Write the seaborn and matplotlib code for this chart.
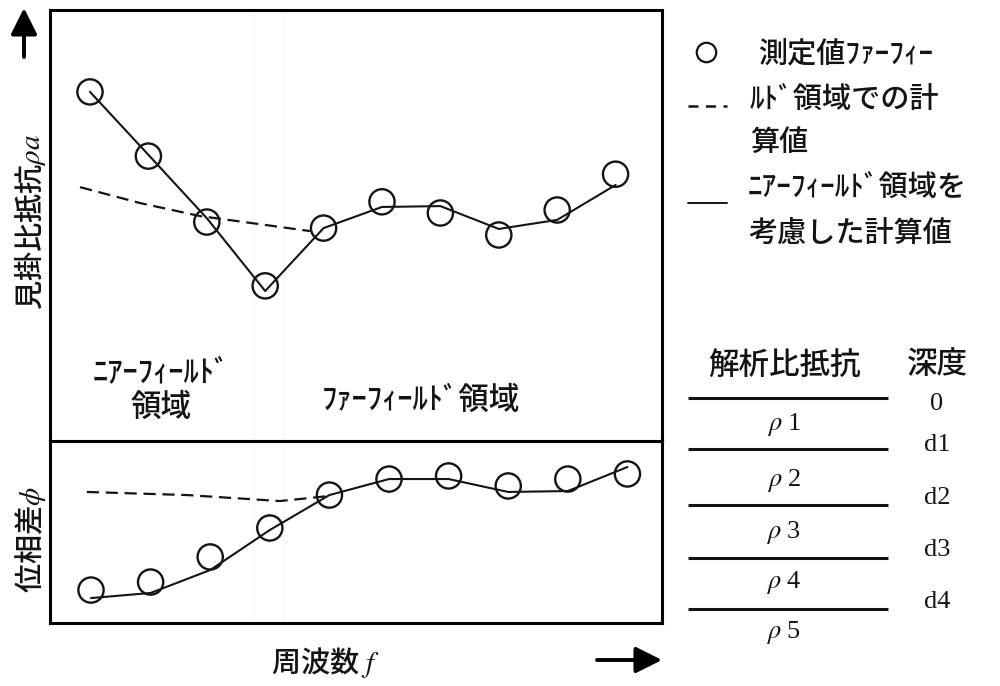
import numpy as np
import pandas as pd
import seaborn as sns
import matplotlib.pyplot as plt

# ---- data (arbitrary units) ----
freq = [0, 1, 2, 3, 4, 5, 6, 7, 8, 9]

rho_measured = [81.0, 66.1, 50.8, 36.0, 49.4, 55.5, 52.9, 47.8, 53.6, 61.9]
rho_near = [81.0, 66.4, 51.7, 34.8, 49.4, 54.3, 54.5, 49.2, 51.3, 59.4]
rho_far_freq = [-0.17, 0.86, 1.88, 2.91, 3.77]
rho_far = [58.9, 55.2, 52.2, 50.3, 48.7]

phase_measured = [18.1, 22.5, 36.3, 52.2, 70.3, 79.1, 80.8, 75.3, 79.1, 81.9]
phase_near = [13.7, 16.5, 29.1, 51.1, 70.3, 79.1, 79.1, 72.0, 72.5, 85.7]
phase_far_freq = [-0.07, 1.61, 3.17, 4.0]
phase_far = [72.0, 70.3, 67.0, 69.8]

layer_labels = ['1', '2', '3', '4', '5']
depth_labels = ['0', 'd1', 'd2', 'd3', 'd4']

W, H = 1000, 686
INK = '#141414'

sns.set_theme(style='white')
plt.rcParams['font.family'] = ['Noto Sans CJK JP', 'DejaVu Sans']
plt.rcParams['font.weight'] = 'medium'
plt.rcParams['mathtext.fontset'] = 'stix'

fig = plt.figure(figsize=(W / 100, H / 100), dpi=100)


def px_axes(left, top, right, bottom):
    return fig.add_axes([left / W, 1 - bottom / H, (right - left) / W, (bottom - top) / H])


def draw_panel(ax, meas, near, far_x, far):
    sns.lineplot(x=far_x, y=far, ax=ax, color=INK, lw=1.6, linestyle=(0, (5.5, 3)))
    sns.lineplot(x=freq, y=near, ax=ax, color=INK, lw=1.5)
    sns.scatterplot(x=freq, y=meas, ax=ax, s=330, marker='o', facecolor='none',
                    edgecolor=INK, linewidth=1.7, zorder=3)
    ax.set_ylim(0, 100)
    ax.set_xticks([])
    ax.set_yticks([])
    ax.set_xlabel('')
    ax.set_ylabel('')
    for s in ax.spines.values():
        s.set_visible(True)
        s.set_linewidth(2.2)
        s.set_color('black')


ax_top = px_axes(50, 10, 662, 441)
draw_panel(ax_top, rho_measured, rho_near, rho_far_freq, rho_far)
ax_top.set_xlim(-0.685, 9.795)
for xv in (2.79, 3.32):
    ax_top.axvline(xv, color='#f7f7f7', lw=1, zorder=0)

ax_bot = px_axes(50, 441, 662, 623)
draw_panel(ax_bot, phase_measured, phase_near, phase_far_freq, phase_far)
ax_bot.set_xlim(-0.688, 9.58)
for xv in (2.72, 3.24):
    ax_bot.axvline(xv, color='#f7f7f7', lw=1, zorder=0)

# ---- overlay in pixel coordinates for labels, legend and layer table ----
ov = fig.add_axes([0, 0, 1, 1])
ov.set_xlim(0, W)
ov.set_ylim(H, 0)
ov.axis('off')

fs = 21
ov.text(30, 222, '見掛比抵抗$\\rho a$', rotation=90, ha='center', va='center', fontsize=fs, color=INK)
ov.text(30, 540, '位相差$\\phi$', rotation=90, ha='center', va='center', fontsize=fs, color=INK)
ov.text(325, 662, '周波数 $f$', ha='center', va='center', fontsize=fs, color=INK)

arrow = dict(arrowstyle='-|>,head_length=0.8,head_width=0.4', lw=2.8, color='black', mutation_scale=20,
             shrinkA=0, shrinkB=0)
ov.annotate('', xy=(24, 8), xytext=(24, 57), arrowprops=arrow)
ov.annotate('', xy=(662, 660), xytext=(597, 660), arrowprops=arrow)

ov.text(161, 390, 'ﾆｱｰﾌｨｰﾙﾄﾞ\n領域', ha='center', va='center', fontsize=22,
        linespacing=1.15, multialignment='center', color=INK)
ov.text(421, 400, 'ﾌｧｰﾌｨｰﾙﾄﾞ領域', ha='center', va='center', fontsize=22, color=INK)

# legend
ov.plot([706], [52], marker='o', ms=14, mfc='none', mec=INK, mew=1.6)
ov.text(758, 54, '測定値ﾌｧｰﾌｨｰ', ha='left', va='center', fontsize=fs, color=INK)
ov.plot([688, 727], [106, 106], color=INK, lw=1.8, linestyle=(0, (4, 3)))
ov.text(750, 100, 'ﾙﾄﾞ領域での計', ha='left', va='center', fontsize=fs, color=INK)
ov.text(750, 142, '算値', ha='left', va='center', fontsize=fs, color=INK)
ov.plot([688, 727], [203, 203], color=INK, lw=1.4)
ov.text(748, 188, 'ﾆｱｰﾌｨｰﾙﾄﾞ領域を', ha='left', va='center', fontsize=fs, color=INK)
ov.text(748, 233, '考慮した計算値', ha='left', va='center', fontsize=fs, color=INK)

# layer table
ov.text(784, 365, '解析比抵抗', ha='center', va='center', fontsize=22, color=INK)
ov.text(937, 365, '深度', ha='center', va='center', fontsize=22, color=INK)
boundary_y = [398, 449, 505, 558, 609]
layer_y = [425, 480, 532, 583, 632]
depth_y = [404, 445, 498, 550, 602]
for yb in boundary_y:
    ov.plot([688, 888], [yb, yb], color=INK, lw=2.2, solid_capstyle='butt')
for lab, yl in zip(layer_labels, layer_y):
    ov.text(784, yl, '$\\rho$ ' + lab, ha='center', va='center', fontsize=19,
            family=['Liberation Serif', 'DejaVu Serif'], color=INK)
for lab, yd in zip(depth_labels, depth_y):
    ov.text(937, yd, lab, ha='center', va='center', fontsize=19,
            family=['Liberation Serif', 'DejaVu Serif'], color=INK)

fig.savefig('out.png', dpi=100)
